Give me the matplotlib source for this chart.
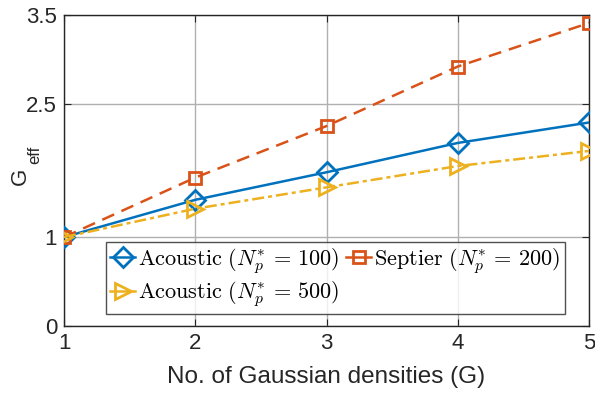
import matplotlib
matplotlib.use("Agg")
import matplotlib.pyplot as plt

plt.rcParams['font.family'] = ['Liberation Sans', 'DejaVu Sans']
plt.rcParams['mathtext.fontset'] = 'cm'

G = [1, 2, 3, 4, 5]
acoustic_100 = [1.0, 1.42, 1.73, 2.06, 2.29]
septier_200 = [1.0, 1.67, 2.25, 2.92, 3.41]
acoustic_500 = [1.0, 1.32, 1.56, 1.80, 1.97]
labels = [r'$\mathrm{Acoustic}\ (N_p^{*}\,=\,100)$',
          r'$\mathrm{Septier}\ (N_p^{*}\,=\,200)$',
          r'$\mathrm{Acoustic}\ (N_p^{*}\,=\,500)$']
yticks = [0, 1, 2.5, 3.5]
xticks = [1, 2, 3, 4, 5]

fig = plt.figure(figsize=(5.95, 3.94), dpi=100)
ax = fig.add_axes([0.1076, 0.1726, 0.8824, 0.7894])

lw = 1.8
l1, = ax.plot(G, acoustic_100, '-', color='#0072BD', lw=lw, marker='D', ms=10,
              mfc='none', mew=2.0, label=labels[0], zorder=3)
l2, = ax.plot(G, septier_200, '--', color='#D95319', lw=lw, marker='s', ms=9,
              mfc='none', mew=2.0, label=labels[1], dashes=(5.2, 3.2), zorder=3)
l3, = ax.plot(G, acoustic_500, '-.', color='#EDB120', lw=lw, marker='>', ms=12,
              mfc='none', mew=2.0, label=labels[2], dashes=(4.8, 1.6, 1.6, 1.6),
              zorder=3)

ax.set_xlim(1, 5)
ax.set_ylim(0, 3.5)
ax.set_xticks(xticks)
ax.set_yticks(yticks)
ax.set_yticklabels(['0', '1', '2.5', '3.5'])
ax.grid(True, color='#b0b0b0', lw=1.0)
ax.set_axisbelow(True)
ax.tick_params(direction='in', labelsize=16, length=5, top=True, right=True,
               color='#262626', labelcolor='#262626', pad=5)
for s in ax.spines.values():
    s.set_color('#262626')
    s.set_linewidth(1.0)
ax.set_xlabel('No. of Gaussian densities (G)', fontsize=17.5, color='#262626',
              labelpad=9)

# y label: G with "eff" subscript in sans-serif
fig.text(20 / 595, 1 - 176 / 394, 'G', rotation=90, fontsize=16,
         color='#262626', ha='center', va='center')
fig.text(35 / 595, 1 - 155 / 394, 'eff', rotation=90, fontsize=12,
         color='#262626', ha='center', va='center')

leg = ax.legend(handles=[l1, l3, l2], ncol=2, loc='lower left',
                bbox_to_anchor=(0.08, 0.04), fontsize=16, frameon=True,
                fancybox=False, edgecolor='#262626', handlelength=1.1,
                handletextpad=0.15, columnspacing=0.3, borderpad=0.2,
                labelspacing=0.15, borderaxespad=0)
leg.get_frame().set_linewidth(1.0)
for h in leg.legend_handles:
    h.set_linestyle('-')

fig.savefig('out.png', dpi=100)
